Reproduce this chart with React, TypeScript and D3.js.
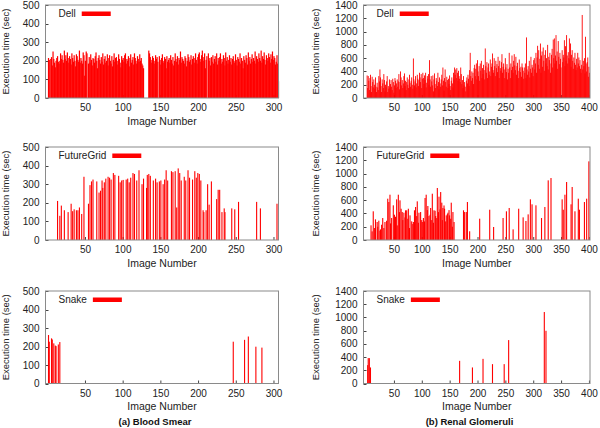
import React, { useEffect, useRef } from "react";
import * as d3 from "d3";

// ---------- DATA ----------
// Blood Smear, Dell: execution time per image (image = index + 1)
const bloodDell: number[] = [
  215,205,0,210,220,175,250,210,190,165,200,215,225,195,185,200,240,210,230,205,
  190,255,210,230,200,245,215,190,225,210,180,240,215,195,230,200,170,235,225,205,
  195,255,190,215,200,185,245,230,120,200,250,240,0,185,220,190,235,205,175,215,
  210,190,225,245,200,160,215,230,205,185,220,195,240,180,210,225,190,200,235,175,
  215,230,200,185,225,170,205,240,195,215,220,180,200,235,210,190,165,225,205,215,
  195,230,240,185,210,200,225,170,215,235,190,205,220,180,240,215,200,185,225,210,
  195,235,200,215,185,175,160,0,0,0,0,0,0,255,240,220,205,190,225,215,
  200,185,230,210,220,195,0,225,205,180,215,235,190,200,220,210,160,225,195,205,
  215,190,230,205,185,220,175,200,240,210,195,225,180,215,205,250,190,220,210,200,
  185,225,215,170,200,235,220,195,205,230,180,210,225,215,190,240,205,185,220,235,
  245,210,195,230,255,220,200,240,160,205,225,0,240,200,215,175,220,195,230,185,
  210,225,195,240,180,215,200,220,240,185,210,195,230,215,175,245,200,220,185,205,
  230,195,215,180,210,225,200,190,235,205,175,220,210,195,240,185,215,200,160,225,
  205,190,230,215,180,245,200,220,185,210,235,195,215,200,250,185,225,210,195,240,
  215,200,255,190,225,210,245,205,180,230,215,200,240,220,190,235,210,250,205,225,
  215,180,195,230,185,90,
];

// Renal Glomeruli, Dell: execution time per image (image = index + 1)
const renalDell: number[] = [
  340,150,330,260,120,300,350,180,90,320,240,160,280,200,140,310,170,90,230,160,
  120,330,250,430,310,180,90,280,220,150,360,270,100,200,160,250,330,90,180,140,
  280,160,210,270,170,120,290,240,80,190,300,260,150,220,280,170,250,360,130,240,
  400,310,190,270,150,220,330,370,180,260,120,240,310,200,150,280,350,230,170,260,
  310,200,140,595,280,190,250,330,160,220,350,290,180,270,380,310,240,360,150,290,
  380,300,210,340,270,380,160,230,330,290,360,200,570,280,170,330,250,190,340,100,
  280,370,210,150,300,260,180,380,240,130,310,220,170,280,350,190,459,260,110,300,
  430,240,170,320,270,150,290,210,340,180,120,260,310,220,160,380,280,459,350,430,
  300,450,380,260,410,330,290,240,459,360,210,270,150,330,190,240,170,100,260,310,
  220,350,290,180,420,680,330,260,400,300,380,210,450,500,330,440,520,280,570,400,
  330,480,260,520,410,560,300,450,360,500,420,280,746,480,380,540,300,460,520,350,
  400,580,330,470,520,670,420,380,600,480,330,560,450,510,390,620,480,300,560,450,
  410,540,660,380,470,520,430,300,600,460,390,510,280,440,380,680,460,300,520,420,
  640,470,380,560,660,490,420,620,350,480,530,410,300,580,450,390,470,320,520,460,
  410,290,460,380,520,300,912,430,350,480,400,560,310,440,620,380,500,460,330,570,
  600,430,520,680,380,610,786,500,720,440,590,820,380,640,700,470,760,560,410,650,
  720,520,600,480,800,430,620,570,680,380,520,650,740,460,880,600,897,520,640,947,
  560,700,440,857,620,510,680,590,460,0,720,540,650,610,870,480,780,560,947,640,
  520,690,600,897,580,821,470,650,720,560,440,610,530,680,500,420,590,460,680,520,
  610,480,570,440,380,500,1250,430,560,480,600,370,922,520,400,540,610,320,470,380,
];

// Blood Smear, FutureGrid (sparse)
const bloodFgImages: number[] = [
  13,16,18,22,27,31,33,35,38,40,42,45,48,54,56,58,60,65,68,70,72,73,75,77,80,82,84,87,89,94,
  96,98,100,104,106,108,110,113,115,118,121,125,127,131,132,134,136,140,143,145,148,150,153,155,157,159,164,166,169,171,
  173,175,177,181,183,186,188,192,195,197,199,201,203,206,207,210,212,214,217,224,226,228,231,234,235,244,248,253,277,282,
  304,
];
const bloodFgTimes: number[] = [
  210,130,185,160,150,195,155,165,160,160,175,140,340,195,295,315,325,315,255,265,320,280,310,330,340,335,325,360,350,345,
  310,320,323,325,330,310,335,360,355,320,375,300,330,280,350,355,345,320,330,310,315,320,300,325,375,320,370,365,370,175,
  385,360,320,340,320,375,335,325,370,335,360,355,320,160,150,160,300,190,315,220,270,270,150,170,150,170,165,205,205,170,
  195,
];

// Renal Glomeruli, FutureGrid (sparse)
const renalFgImages: number[] = [
  8,10,12,14,16,19,20,22,24,25,27,29,31,33,36,38,40,42,43,45,48,50,52,54,55,57,59,60,62,64,
  65,67,69,70,72,74,75,77,78,81,83,84,86,88,90,91,93,94,97,99,100,102,104,105,107,109,110,112,114,115,
  117,118,120,121,123,124,126,127,129,130,132,133,135,136,137,139,140,142,143,145,146,148,149,151,152,154,155,157,174,176,
  179,181,185,203,221,228,245,251,256,263,273,281,286,290,294,297,304,314,320,326,331,351,353,356,359,367,369,374,380,382,
  391,395,399,
];
const renalFgTimes: number[] = [
  221,130,432,180,311,271,200,291,140,160,230,331,180,271,290,622,572,682,250,331,522,381,350,612,220,682,420,597,471,421,
  300,411,340,447,447,320,471,180,371,281,240,271,447,497,360,582,260,411,421,300,271,331,280,632,682,450,512,361,380,482,
  300,697,260,447,440,361,330,783,420,652,460,722,562,300,482,520,471,280,371,390,411,450,371,320,562,200,421,271,447,421,
  421,572,131,321,456,196,331,432,482,160,471,341,286,386,612,537,522,331,497,898,933,612,456,682,873,537,798,432,622,456,
  572,622,1184,
];

// Snake (sparse)
const bloodSnakeImages: number[] = [1,2,5,6,8,10,11,14,16,246,261,266,276,284];
const bloodSnakeTimes: number[] = [262,226,244,238,217,205,202,211,224,226,236,254,199,194];
const renalSnakeImages: number[] = [2,3,5,7,167,190,209,226,247,255,319,322];
const renalSnakeTimes: number[] = [278,384,384,243,343,243,373,293,293,657,1082,798];

// Axis ticks
const bloodXTicks: number[] = [50,100,150,200,250,300];
const renalXTicks: number[] = [50,100,150,200,250,300,350,400];
const bloodYTicks: number[] = [0,100,200,300,400,500];
const renalYTicks: number[] = [0,200,400,600,800,1000,1200,1400];

const legends: string[] = ["Dell", "FutureGrid", "Snake"];
const captions: string[] = ["(a) Blood Smear", "(b) Renal Glomeruli"];

// ---------- LAYOUT ----------
const FONT = "'Liberation Sans', Arial, sans-serif";
const cols = [
  { x0: 45.5, x1: 278.5, xDomain: [-3, 306], yMax: 500, xTicks: bloodXTicks, yTicks: bloodYTicks, ylabX: 5.5, capX: 155 },
  { x0: 363.5, x1: 590, xDomain: [-5.5, 401], yMax: 1400, xTicks: renalXTicks, yTicks: renalYTicks, ylabX: 315, capX: 469.5 },
];
const rows = [
  { y0: 5, y1: 98 },
  { y0: 147, y1: 240 },
  { y0: 291, y1: 383.5 },
];

function toPairs(images: number[], times: number[]) {
  return images.map((im, i) => ({ image: im, time: times[i] }));
}
function densePairs(values: number[]) {
  return values.map((v, i) => ({ image: i + 1, time: v }));
}

export default function App() {
  const ref = useRef<SVGSVGElement | null>(null);

  useEffect(() => {
    document.body.style.margin = "0";
    const svg = d3.select(ref.current);
    svg.selectAll("*").remove();

    const datasets = [
      [densePairs(bloodDell), densePairs(renalDell)],
      [toPairs(bloodFgImages, bloodFgTimes), toPairs(renalFgImages, renalFgTimes)],
      [toPairs(bloodSnakeImages, bloodSnakeTimes), toPairs(renalSnakeImages, renalSnakeTimes)],
    ];

    rows.forEach((row, ri) => {
      cols.forEach((col, ci) => {
        const g = svg.append("g");
        const x = d3.scaleLinear().domain(col.xDomain).range([col.x0, col.x1]);
        const y = d3.scaleLinear().domain([0, col.yMax]).range([row.y1, row.y0]);
        const data = datasets[ri][ci];
        const step = x(1) - x(0);
        const bw = ri === 0 ? step * 1.6 : Math.max(step, 1.1);

        // ticks (inward)
        g.selectAll("line.yt")
          .data(col.yTicks)
          .join("line")
          .attr("x1", col.x0)
          .attr("x2", col.x0 + 3)
          .attr("y1", (d) => Math.round(y(d)) + 0.5)
          .attr("y2", (d) => Math.round(y(d)) + 0.5)
          .attr("stroke", "#444")
          .attr("stroke-width", 1);
        g.selectAll("line.xt")
          .data(col.xTicks)
          .join("line")
          .attr("x1", (d) => x(d))
          .attr("x2", (d) => x(d))
          .attr("y1", row.y1)
          .attr("y2", row.y1 - 3)
          .attr("stroke", "#444")
          .attr("stroke-width", 1);

        // bars
        g.append("g")
          .selectAll("rect")
          .data(data)
          .join("rect")
          .attr("x", (d) => x(d.image) - bw / 2)
          .attr("width", bw)
          .attr("y", (d) => y(d.time))
          .attr("height", (d) => y(0) - y(d.time))
          .attr("fill", "#ff0000");

        // frame
        g.append("rect")
          .attr("x", col.x0)
          .attr("y", row.y0)
          .attr("width", col.x1 - col.x0)
          .attr("height", row.y1 - row.y0)
          .attr("fill", "none")
          .attr("stroke", "#8a8a8a")
          .attr("stroke-width", 1);

        // tick labels
        g.selectAll("text.yl")
          .data(col.yTicks)
          .join("text")
          .attr("x", col.x0 - 6)
          .attr("y", (d) => y(d) + 3.5)
          .attr("text-anchor", "end")
          .attr("font-family", FONT)
          .attr("font-size", 10)
          .attr("fill", "#222")
          .text((d) => String(d));
        g.selectAll("text.xl")
          .data(col.xTicks)
          .join("text")
          .attr("x", (d) => x(d))
          .attr("y", row.y1 + 13)
          .attr("text-anchor", "middle")
          .attr("font-family", FONT)
          .attr("font-size", 10)
          .attr("fill", "#222")
          .text((d) => String(d));

        // axis titles
        g.append("text")
          .attr("x", (col.x0 + col.x1) / 2)
          .attr("y", row.y1 + 26.5)
          .attr("text-anchor", "middle")
          .attr("font-family", FONT)
          .attr("font-size", 10.5)
          .attr("fill", "#222")
          .text("Image Number");
        const cy = (row.y0 + row.y1) / 2;
        g.append("text")
          .attr("transform", `translate(${col.ylabX},${cy}) rotate(-90)`)
          .attr("text-anchor", "middle")
          .attr("dominant-baseline", "central")
          .attr("font-family", FONT)
          .attr("font-size", 9.5)
          .attr("fill", "#222")
          .text("Execution time (sec)");

        // legend
        const lt = g.append("text")
          .attr("x", col.x0 + 13)
          .attr("y", row.y0 + 12.3)
          .attr("font-family", FONT)
          .attr("font-size", 10)
          .attr("fill", "#222")
          .text(legends[ri]);
        const tw = (lt.node() as SVGTextElement).getComputedTextLength();
        g.append("rect")
          .attr("x", col.x0 + 13 + tw + 6)
          .attr("y", row.y0 + 6.5)
          .attr("width", 29)
          .attr("height", 4.5)
          .attr("fill", "#ff0000");

        if (ri === 2) {
          g.append("text")
            .attr("x", col.capX)
            .attr("y", 425)
            .attr("text-anchor", "middle")
            .attr("font-family", FONT)
            .attr("font-size", 9.5)
            .attr("font-weight", "bold")
            .attr("fill", "#111")
            .text(captions[ci]);
        }
      });
    });
  }, []);

  return <svg ref={ref} width={600} height={428} style={{ display: "block", background: "#fff" }} />;
}
